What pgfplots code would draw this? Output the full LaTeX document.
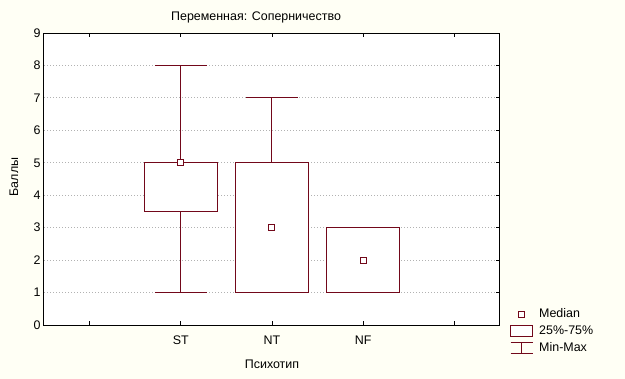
\documentclass[border=0pt]{standalone}
\usepackage{pgfplots}
\pgfplotsset{compat=1.18}
\usepgfplotslibrary{statistics}
\usepackage{fontspec}
\setmainfont{Liberation Sans}
\definecolor{maroonc}{RGB}{114,8,26}
\definecolor{bgc}{RGB}{255,255,245}
\begin{document}
\begin{tikzpicture}
\path[use as bounding box, fill=bgc] (-44bp,-54bp) rectangle (581bp,325bp);
\begin{axis}[
  at={(0,0)}, anchor=south west,
  scale only axis, width=456bp, height=292bp,
  axis background/.style={fill=white},
  font=\fontsize{12.5}{14}\selectfont,
  /pgf/number format/assume math mode=true,
  xmin=0.5, xmax=5.5, ymin=0, ymax=9,
  xtick={1,2,3,4,5}, xticklabels={,ST,NT,NF,},
  xticklabel style={yshift=-7bp},
  ytick={0,1,...,9},
  tick align=inside,
  ytick pos=right, yticklabel pos=left,
  major tick length=4bp,
  tick style={black, line width=0.8bp},
  axis line style={black, line width=1bp},
  ymajorgrids,
  grid style={gray!60, dash pattern=on 1bp off 2bp, line width=0.8bp},
  title={Переменная: Соперничество},
  title style={at={(axis description cs:0.465,1)}, anchor=base, yshift=7bp},
  xlabel={Психотип},
  xlabel style={at={(axis description cs:0.5,-0.1336)}, anchor=center},
  ylabel={Баллы},
  ylabel style={at={(axis description cs:-0.0658,0.507)}, anchor=center},
  boxplot/draw direction=y,
  boxplot/draw/median/.code={},
  legend style={at={(axis description cs:1,0)}, anchor=north west, xshift=10bp, yshift=17bp,
    draw=none, fill=none, inner sep=0pt, row sep=5bp,
    nodes={inner sep=0pt, text height=9bp, text depth=3bp},
    font=\fontsize{12.5}{14}\selectfont},
  legend cell align=left,
  /tikz/every odd column/.append style={column sep=6bp},
]
\addlegendimage{legend image code/.code={
  \path[draw=none, fill=none] (0bp,-5.5bp) rectangle (22bp,5.5bp);
  \draw[maroonc, line width=1bp, fill=white] (7.5bp,-3bp) rectangle (13.5bp,3bp);}}
\addlegendentry{Median}
\addlegendimage{legend image code/.code={
  \draw[maroonc, line width=1bp, fill=white] (0bp,-5.5bp) rectangle (22bp,5.5bp);}}
\addlegendentry{25\%-75\%}
\addlegendimage{legend image code/.code={
  \draw[maroonc, line width=1bp] (0bp,5.5bp) -- (22bp,5.5bp) (11bp,5.5bp) -- (11bp,-5.5bp) (0bp,-5.5bp) -- (22bp,-5.5bp);}}
\addlegendentry{Min-Max}

\addplot[maroonc, line width=1bp, fill=white, forget plot,
  boxplot prepared={draw position=2, lower whisker=1, lower quartile=3.5,
    median=5, upper quartile=5, upper whisker=8, box extend=0.8, whisker extend=0.57}]
  coordinates {};
\addplot[maroonc, line width=1bp, fill=white, forget plot,
  boxplot prepared={draw position=3, lower whisker=1, lower quartile=1,
    median=3, upper quartile=5, upper whisker=7, box extend=0.8, whisker extend=0.57}]
  coordinates {};
\addplot[maroonc, line width=1bp, fill=white, forget plot,
  boxplot prepared={draw position=4, lower whisker=1, lower quartile=1,
    median=2, upper quartile=3, upper whisker=3, box extend=0.8, whisker extend=0.57}]
  coordinates {};
\addplot[only marks, forget plot, mark=square*, mark size=3bp,
  mark options={fill=white, draw=maroonc, line width=1bp}]
  coordinates {(2,5) (3,3) (4,2)};
\end{axis}
\end{tikzpicture}
\end{document}
